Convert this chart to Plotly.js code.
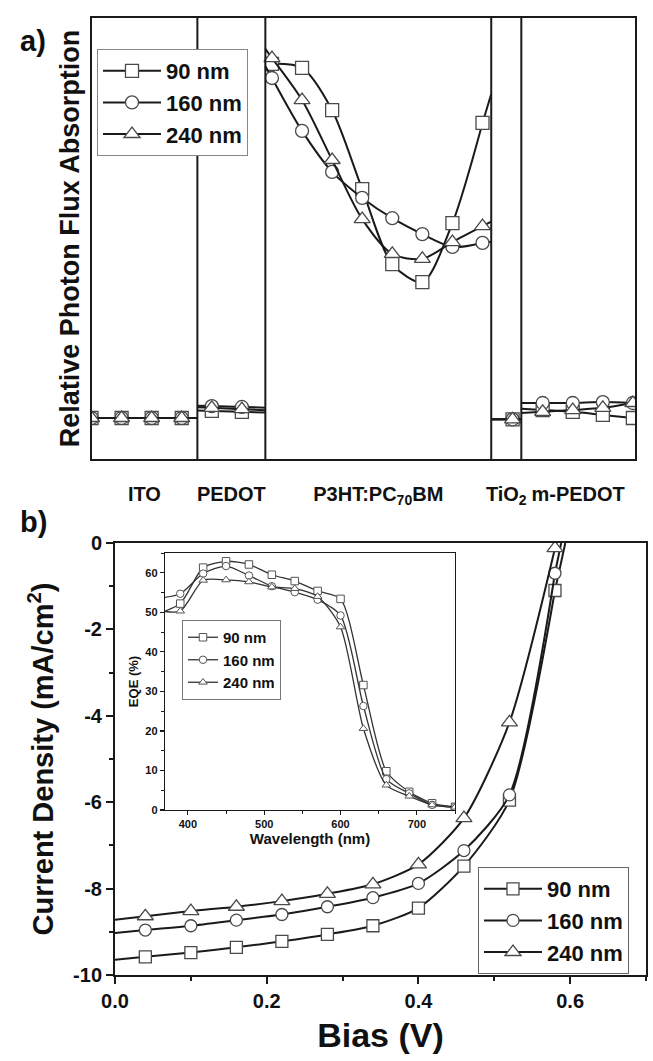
<!DOCTYPE html>
<html><head><meta charset="utf-8">
<script src="https://cdn.plot.ly/plotly-3.0.1.min.js"></script>
<style>html,body{margin:0;padding:0;background:#fff;} #chart{width:653px;height:1061px;}</style>
</head><body><div id="chart"></div>
<script>
// ---------- Panel a: relative photon flux absorption across device layers ----------
const layerNames = ['ITO', 'PEDOT', 'P3HT:PC<sub>70</sub>BM', 'TiO<sub>2</sub>', 'm-PEDOT'];
const layerBounds = [0, 3.52, 5.78, 13.29, 14.29, 18.07];
const positions = [0, 1, 2, 3, 4, 5, 6, 7, 8, 9, 10, 11, 12, 13, 14, 15, 16, 17, 18];
const abs90  = [0.093, 0.093, 0.093, 0.093, 0.109, 0.107, 0.896, 0.887, 0.791, 0.612, 0.442, 0.401, 0.535, 0.762, 0.090, 0.111, 0.107, 0.100, 0.093];
const abs160 = [0.093, 0.093, 0.093, 0.093, 0.120, 0.118, 0.864, 0.744, 0.651, 0.592, 0.546, 0.510, 0.481, 0.490, 0.090, 0.127, 0.127, 0.129, 0.127];
const abs240 = [0.093, 0.093, 0.093, 0.093, 0.116, 0.113, 0.909, 0.814, 0.678, 0.544, 0.465, 0.454, 0.492, 0.528, 0.090, 0.107, 0.111, 0.116, 0.127];

// ---------- Panel b: J-V curves ----------
const bias   = [0.04, 0.10, 0.16, 0.22, 0.28, 0.34, 0.40, 0.46, 0.52, 0.58];
const jv90   = [-9.58, -9.48, -9.36, -9.22, -9.06, -8.86, -8.45, -7.48, -5.95, -1.10];
const jv160  = [-8.96, -8.86, -8.73, -8.60, -8.42, -8.21, -7.88, -7.12, -5.83, -0.70];
const jv240  = [-8.64, -8.52, -8.42, -8.29, -8.12, -7.90, -7.44, -6.37, -4.15, -0.12];
const jvTicks = [0, -2, -4, -6, -8, -10];

// ---------- Inset: EQE ----------
const wavelength = [360, 390, 420, 450, 480, 510, 540, 570, 600, 630, 660, 690, 720, 750];
const eqe90  = [49.6, 52.2, 61.3, 62.9, 62.1, 59.5, 57.9, 55.4, 53.4, 31.6, 9.8, 4.6, 1.7, 0.8];
const eqe160 = [53.5, 54.7, 59.8, 61.7, 59.3, 56.6, 55.1, 53.2, 49.2, 26.3, 7.8, 4.2, 1.3, 0.7];
const eqe240 = [50.5, 50.3, 58.1, 58.2, 57.7, 56.4, 56.0, 54.0, 46.3, 20.6, 6.3, 3.5, 1.3, 0.7];

const seriesNames = ['90 nm', '160 nm', '240 nm'];
const symbols = ['square', 'circle', 'triangle-up'];

const W = 653, H = 1061;
const LINE = '#1a1a1a', MK = '#4a4a4a';
const FONT = 'Liberation Sans, Arial, Helvetica, sans-serif';

function layerOf(x) {
  for (let i = 0; i < layerBounds.length - 1; i++) if (x >= layerBounds[i] && x < layerBounds[i + 1]) return i;
  return layerBounds.length - 2;
}

const traces = [];
// Panel a traces
[abs90, abs160, abs240].forEach((vals, s) => {
  const mx = [], my = [];
  const ex = [], ey = [];
  let prev = -1;
  const groups = {};
  positions.forEach((p, i) => {
    const L = layerOf(p);
    if (prev !== -1 && L !== prev) { mx.push(null); my.push(null); }
    mx.push(p); my.push(vals[i]);
    (groups[L] = groups[L] || []).push([p, vals[i]]);
    prev = L;
  });
  Object.keys(groups).forEach(k => {
    const L = +k, g = groups[k];
    const bl = layerBounds[L], br = layerBounds[L + 1];
    const first = g[0], last = g[g.length - 1];
    let sl = 0, sr = 0;
    if (g.length > 1) {
      sl = (g[1][1] - g[0][1]) / (g[1][0] - g[0][0]);
      sr = (last[1] - g[g.length - 2][1]) / (last[0] - g[g.length - 2][0]);
    }
    if (first[0] > bl) { ex.push(bl, first[0], null); ey.push(first[1] - sl * (first[0] - bl), first[1], null); }
    if (last[0] < br) { ex.push(last[0], br, null); ey.push(last[1], last[1] + sr * (br - last[0]), null); }
  });
  traces.push({x: ex, y: ey, xaxis: 'x', yaxis: 'y', mode: 'lines', line: {color: LINE, width: 2}, showlegend: false, hoverinfo: 'skip'});
  traces.push({x: mx, y: my, xaxis: 'x', yaxis: 'y', mode: 'lines+markers', name: seriesNames[s], legend: 'legend',
    connectgaps: false, line: {color: LINE, width: 2, shape: 'spline', smoothing: 0.8},
    marker: {symbol: symbols[s], size: s === 2 ? 14 : 13, color: 'white', line: {color: MK, width: 1.3}}});
});

// Panel b traces
[jv90, jv160, jv240].forEach((vals, s) => {
  const n = bias.length;
  const sl = (vals[1] - vals[0]) / (bias[1] - bias[0]);
  const sr = (vals[n - 1] - vals[n - 2]) / (bias[n - 1] - bias[n - 2]);
  const xTop = bias[n - 1] - vals[n - 1] / sr;
  traces.push({x: [0, bias[0], null, bias[n - 1], xTop], y: [vals[0] - sl * bias[0], vals[0], null, vals[n - 1], 0],
    xaxis: 'x2', yaxis: 'y2', mode: 'lines', line: {color: LINE, width: 2}, showlegend: false, hoverinfo: 'skip'});
  traces.push({x: bias, y: vals, xaxis: 'x2', yaxis: 'y2', mode: 'lines+markers', name: seriesNames[s], legend: 'legend2',
    line: {color: LINE, width: 2, shape: 'spline', smoothing: 0.7},
    marker: {symbol: symbols[s], size: s === 2 ? 14 : 12, color: 'white', line: {color: MK, width: 1.3}}});
});

// Inset traces
[eqe90, eqe160, eqe240].forEach((vals, s) => {
  traces.push({x: wavelength, y: vals, xaxis: 'x3', yaxis: 'y3', mode: 'lines+markers', name: seriesNames[s], legend: 'legend3',
    line: {color: '#333', width: 1.3, shape: 'spline', smoothing: 0.7},
    marker: {symbol: symbols[s], size: 7.5, color: 'white', line: {color: '#555', width: 1}}});
});

const layerCenters = layerNames.map((_, i) => (layerBounds[i] + layerBounds[i + 1]) / 2);

const shapes = layerBounds.slice(1, -1).map(b => ({type: 'line', xref: 'x', yref: 'y domain', x0: b, x1: b, y0: 0, y1: 1,
  line: {color: LINE, width: 2}}));

const axBase = {showline: true, mirror: true, linewidth: 2, linecolor: LINE, showgrid: false, zeroline: false};

const layout = {
  width: W, height: H, margin: {l: 0, r: 0, t: 0, b: 0},
  paper_bgcolor: 'white', plot_bgcolor: 'white',
  font: {family: FONT, color: '#111', weight: 'bold'},
  xaxis: Object.assign({}, axBase, {domain: [91.5 / W, 635 / W], range: [0, 18.07], anchor: 'y',
    tickmode: 'array', tickvals: layerCenters, ticktext: layerNames, ticks: '', tickangle: 0,
    tickfont: {size: 20, weight: 'bold'}, ticklabelstandoff: 16}),
  yaxis: Object.assign({}, axBase, {domain: [1 - 459 / H, 1 - 18 / H], range: [0, 1], anchor: 'x', showticklabels: false, ticks: '',
    title: {text: 'Relative Photon Flux Absorption', font: {size: 27, weight: 'bold'}, standoff: 2}}),
  xaxis2: Object.assign({}, axBase, {domain: [115 / W, 646 / W], range: [0, 0.7], anchor: 'y2', tick0: 0, dtick: 0.2, tickformat: '.1f',
    ticks: 'outside', ticklen: 7, tickwidth: 2, tickcolor: LINE, minor: {dtick: 0.1, ticks: 'outside', ticklen: 4, tickwidth: 2, tickcolor: LINE, showgrid: false},
    tickfont: {size: 20, weight: 'bold'}, title: {text: 'Bias (V)', font: {size: 34, weight: 'bold'}, standoff: 12}}),
  yaxis2: Object.assign({}, axBase, {domain: [1 - 975 / H, 1 - 543 / H], range: [-10, 0], anchor: 'x2',
    tickmode: 'array', tickvals: jvTicks, ticktext: jvTicks.map(v => String(v)),
    ticks: 'outside', ticklen: 7, tickwidth: 2, tickcolor: LINE, minor: {tickmode: 'linear', tick0: 0, dtick: 1, ticks: 'outside', ticklen: 4, tickwidth: 2, tickcolor: LINE, showgrid: false},
    tickfont: {size: 20, weight: 'bold'}, title: {text: 'Current Density (mA/cm<sup>2</sup>)', font: {size: 29, weight: 'bold'}, standoff: 11}}),
  xaxis3: Object.assign({}, axBase, {domain: [165 / W, 455 / W], range: [370, 750], anchor: 'y3', tick0: 0, dtick: 100, linewidth: 1.2,
    ticks: 'outside', ticklen: 4, tickwidth: 1.2, tickcolor: LINE, minor: {dtick: 50, ticks: 'outside', ticklen: 3, tickwidth: 1, tickcolor: LINE, showgrid: false},
    tickfont: {size: 11, weight: 'bold'}, title: {text: 'Wavelength (nm)', font: {size: 15, weight: 'bold'}, standoff: 3}}),
  yaxis3: Object.assign({}, axBase, {domain: [1 - 810 / H, 1 - 553 / H], range: [0, 65], anchor: 'x3', tick0: 0, dtick: 10, linewidth: 1.2,
    ticks: 'outside', ticklen: 4, tickwidth: 1.2, tickcolor: LINE, minor: {dtick: 5, ticks: 'outside', ticklen: 3, tickwidth: 1, tickcolor: LINE, showgrid: false},
    tickfont: {size: 11, weight: 'bold'}, title: {text: 'EQE (%)', font: {size: 13, weight: 'bold'}, standoff: 3}}),
  legend: {x: 97 / W, y: 1 - 49 / H, xanchor: 'left', yanchor: 'top', bgcolor: 'white', bordercolor: '#888', borderwidth: 1,
    font: {size: 22, weight: 'bold'}, itemwidth: 58, tracegroupgap: 0},
  legend2: {x: 478 / W, y: 1 - 867 / H, xanchor: 'left', yanchor: 'top', bgcolor: 'white', bordercolor: '#666', borderwidth: 1,
    font: {size: 22, weight: 'bold'}, itemwidth: 58, tracegroupgap: 0},
  legend3: {x: 182 / W, y: 1 - 620 / H, xanchor: 'left', yanchor: 'top', bgcolor: 'white', bordercolor: '#777', borderwidth: 1,
    font: {size: 15, weight: 'bold'}, itemwidth: 30, tracegroupgap: 0},
  shapes: shapes,
  annotations: [
    {text: 'a)', xref: 'paper', yref: 'paper', x: 33 / W, y: 1 - 41 / H, xanchor: 'center', yanchor: 'middle', showarrow: false, font: {size: 29, weight: 'bold'}},
    {text: 'b)', xref: 'paper', yref: 'paper', x: 33 / W, y: 1 - 522 / H, xanchor: 'center', yanchor: 'middle', showarrow: false, font: {size: 29, weight: 'bold'}}
  ]
};

Plotly.newPlot('chart', traces, layout, {displayModeBar: false, staticPlot: true});
</script></body></html>
